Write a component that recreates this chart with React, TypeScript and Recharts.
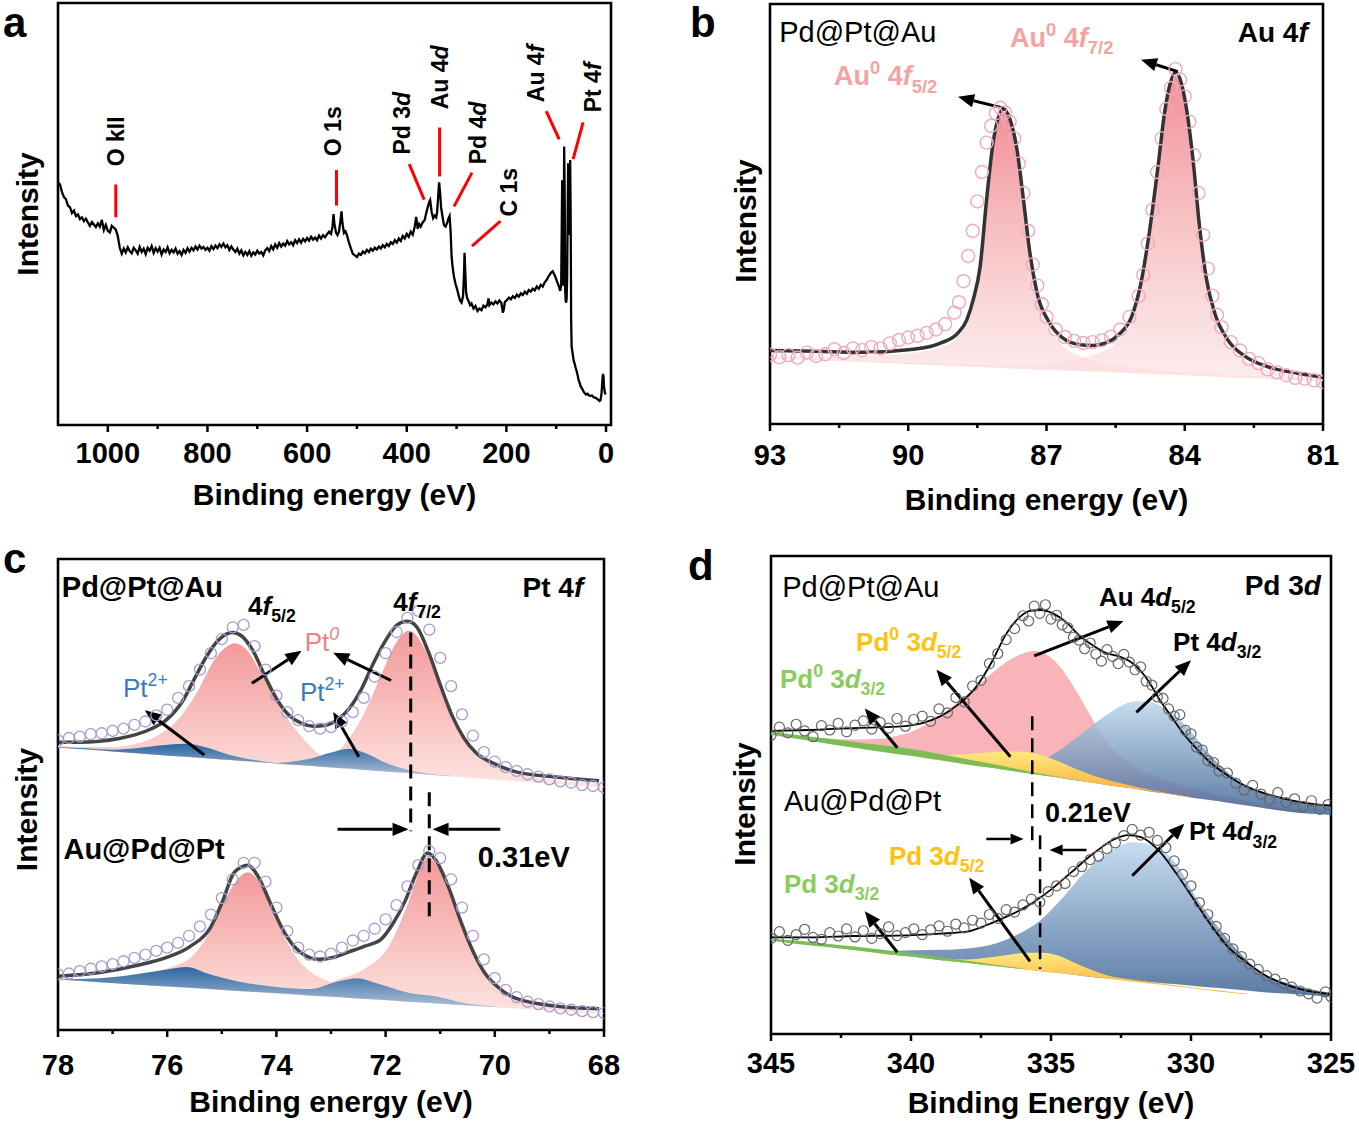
import React from "react";
import {
  ComposedChart,
  Line,
  Area,
  Scatter,
  XAxis,
  YAxis,
  ReferenceLine,
  ReferenceDot,
  ReferenceArea,
} from "recharts";

const FONT = '"Liberation Sans", Arial, Helvetica, sans-serif';

type Pt = [number, number];
type Band = [number, number, number]; // [BE, background, top]
type Seg = { t: string; i?: boolean; sub?: boolean; sup?: boolean };

// ---------------- panel a : survey ----------------
const surveyMajor = [1000, 800, 600, 400, 200, 0];
const surveyMinor = [900, 700, 500, 300, 100];
const survey: Pt[] = [
  [1100, 57.5], [1096, 57.0], [1092, 55.2], [1088, 54.0], [1084, 53.5], [1080, 52.0], [1076, 51.6], [1072, 50.2],
  [1068, 50.8], [1064, 49.5], [1060, 49.9], [1056, 48.8], [1052, 49.2], [1048, 48.3], [1044, 48.9], [1040, 48.0],
  [1036, 47.2], [1032, 48.1], [1028, 47.5], [1024, 46.9], [1020, 47.8], [1016, 47.0], [1012, 48.6], [1008, 46.2],
  [1004, 47.4], [1000, 46.0], [996, 45.6], [992, 47.2], [988, 46.8], [984, 46.3], [980, 44.8], [976, 42.0],
  [972, 40.6], [968, 41.8], [964, 40.9], [960, 42.1], [956, 41.2], [952, 40.7], [948, 42.0], [944, 41.4],
  [940, 40.6], [936, 42.2], [932, 41.0], [928, 41.8], [924, 40.5], [920, 42.0], [916, 41.3], [912, 42.4],
  [908, 40.8], [904, 41.9], [900, 41.1], [896, 42.0], [892, 40.4], [888, 41.6], [884, 41.0], [880, 42.1],
  [876, 40.7], [872, 41.5], [868, 40.9], [864, 41.8], [860, 40.6], [856, 41.2], [852, 40.3], [848, 41.5],
  [844, 40.8], [840, 41.9], [836, 41.1], [832, 42.0], [828, 41.4], [824, 42.3], [820, 41.6], [816, 42.5],
  [812, 41.8], [808, 42.2], [804, 41.5], [800, 42.0], [796, 41.3], [792, 42.4], [788, 41.7], [784, 42.5],
  [780, 41.9], [776, 42.8], [772, 42.2], [768, 43.0], [764, 42.1], [760, 42.6], [756, 41.5], [752, 42.3],
  [748, 41.6], [744, 41.0], [740, 41.8], [736, 40.6], [732, 41.4], [728, 40.2], [724, 41.0], [720, 40.3],
  [716, 41.2], [712, 40.1], [708, 40.9], [704, 40.4], [700, 41.3], [696, 40.6], [692, 41.0], [688, 40.2],
  [684, 41.4], [680, 41.9], [676, 41.2], [672, 42.4], [668, 41.6], [664, 42.8], [660, 42.0], [656, 43.1],
  [652, 42.3], [648, 43.0], [644, 42.5], [640, 43.6], [636, 42.8], [632, 43.3], [628, 42.6], [624, 43.8],
  [620, 43.1], [616, 44.0], [612, 43.2], [608, 44.1], [604, 43.5], [600, 44.3], [596, 43.7], [592, 44.6],
  [588, 43.9], [584, 44.4], [580, 43.8], [576, 44.9], [572, 44.2], [568, 45.0], [564, 44.5], [560, 45.2],
  [556, 45.8], [552, 45.3], [549, 47.0], [547, 50.0], [545, 47.5], [542, 45.6], [539, 45.0], [536, 45.8],
  [533, 48.5], [531, 50.6], [529, 47.8], [526, 45.5], [523, 45.9], [520, 45.0], [516, 43.2], [512, 41.8],
  [508, 40.5], [504, 40.2], [500, 39.8], [496, 40.6], [492, 40.3], [488, 41.1], [484, 40.7], [480, 41.5],
  [476, 41.0], [472, 41.8], [468, 41.3], [464, 42.0], [460, 41.6], [456, 42.3], [452, 41.8], [448, 42.6],
  [444, 42.1], [440, 42.9], [436, 42.4], [432, 43.3], [428, 42.9], [424, 43.8], [420, 43.2], [416, 44.2],
  [412, 43.6], [408, 44.8], [404, 44.2], [400, 45.3], [396, 44.6], [392, 45.8], [388, 45.1], [384, 47.0],
  [381, 49.3], [378, 46.5], [375, 47.6], [372, 47.0], [368, 48.0], [364, 48.6], [361, 50.2], [358, 51.5],
  [355, 52.8], [353, 53.3], [350, 50.5], [347, 49.0], [344, 49.6], [341, 49.2], [339, 50.5], [337, 54.0],
  [335, 57.5], [333, 55.0], [331, 51.5], [329, 50.0], [327, 48.5], [325, 47.3], [322, 47.0], [320, 47.6],
  [318, 48.2], [316, 49.0], [314, 49.5], [312, 46.0], [310, 40.0], [308, 37.5], [305, 35.0], [302, 33.4],
  [299, 32.2], [296, 30.8], [293, 29.5], [290, 29.0], [287, 30.5], [285, 36.0], [284, 40.8], [283, 38.0],
  [281, 31.5], [279, 30.2], [276, 29.4], [273, 28.4], [270, 28.8], [266, 27.6], [262, 28.2], [258, 27.0],
  [254, 27.6], [250, 27.2], [246, 28.3], [242, 27.9], [238, 28.6], [236, 30.0], [234, 28.4], [230, 29.0],
  [226, 28.6], [222, 29.3], [218, 28.8], [214, 29.5], [210, 28.9], [207, 26.6], [205, 27.5], [203, 29.2],
  [199, 29.6], [195, 30.2], [191, 29.8], [187, 30.5], [183, 30.1], [179, 30.9], [175, 30.4], [171, 31.2],
  [167, 30.8], [163, 31.6], [159, 31.1], [155, 32.0], [151, 31.6], [147, 32.3], [143, 31.9], [139, 32.8],
  [135, 32.3], [131, 33.2], [127, 32.8], [123, 33.8], [119, 34.4], [115, 35.3], [111, 36.0], [107, 36.4],
  [103, 35.5], [99, 34.2], [95, 33.0], [92, 31.8], [90, 33.0], [89, 45.0], [88, 58.0], [87, 50.0],
  [86, 33.0], [85, 40.0], [84, 66.0], [83, 55.0], [82, 32.0], [81, 29.5], [80, 29.0], [79, 30.0],
  [78, 35.0], [77, 50.0], [76, 62.0], [75, 55.0], [74, 45.0], [73, 55.0], [72, 62.8], [71, 50.0],
  [70, 25.0], [69, 18.5], [67, 17.0], [65, 15.3], [63, 14.5], [61, 13.6], [59, 12.8], [57, 11.8],
  [55, 10.7], [53, 10.0], [51, 9.2], [49, 8.8], [47, 8.4], [45, 7.9], [43, 7.6], [40, 7.2],
  [37, 7.4], [34, 7.0], [31, 6.9], [28, 7.0], [25, 6.6], [22, 6.5], [19, 6.3], [16, 6.0],
  [13, 5.7], [11, 5.9], [9, 7.5], [7, 11.0], [6, 12.1], [5, 11.5], [4, 9.0], [2, 7.5], [0, 7.3],
];
const surveyLabels: { name: Seg[]; at: Pt; from: Pt; to: Pt }[] = [
  { name: [{ t: "O kII" }], at: [984, 61.3], from: [984, 57.0], to: [984, 49.2] },
  { name: [{ t: "O 1s" }], at: [547, 63.7], from: [541, 60.4], to: [541, 52.0] },
  { name: [{ t: "Pd 3" }, { t: "d", i: true }], at: [409, 64.1], from: [395, 61.8], to: [365, 53.4] },
  { name: [{ t: "Au 4" }, { t: "d", i: true }], at: [333, 74.8], from: [334, 70.5], to: [334, 58.9] },
  { name: [{ t: "Pd 4" }, { t: "d", i: true }], at: [257, 61.8], from: [269, 59.8], to: [305, 51.8] },
  { name: [{ t: "C 1s" }], at: [194, 49.4], from: [212, 48.3], to: [269, 42.4] },
  { name: [{ t: "Au 4" }, { t: "f", i: true }], at: [140, 76.5], from: [120, 74.4], to: [94, 67.7] },
  { name: [{ t: "Pt 4" }, { t: "f", i: true }], at: [26, 74.1], from: [46, 71.7], to: [66, 63.0] },
];

// ---------------- panel b : Au 4f ----------------
const auMajor = [93, 90, 87, 84, 81];
const auMinor = [91.5, 88.5, 85.5, 82.5];
const auFit: Pt[] = [
  [93.0, 17.5], [92.0, 17.3], [91.0, 17.1], [90.0, 17.7], [89.5, 18.5], [89.29, 19.3], [88.92, 21.7],
  [88.73, 24.8], [88.59, 29.6], [88.44, 37.5], [88.3, 53.4], [88.16, 66.9], [88.02, 73.7], [87.93, 75.0],
  [87.79, 72.5], [87.64, 65.3], [87.5, 53.4], [87.36, 40.7], [87.22, 32.0], [86.93, 24.0], [86.65, 20.5],
  [86.28, 18.9], [86.0, 18.7], [85.71, 19.3], [85.43, 21.3], [85.15, 25.6], [84.95, 33.6], [84.77, 45.5],
  [84.58, 61.3], [84.44, 74.0], [84.29, 82.0], [84.2, 83.7], [84.11, 82.4], [83.97, 75.6], [83.82, 62.9],
  [83.68, 47.1], [83.54, 35.2], [83.35, 26.4], [83.07, 20.1], [82.69, 16.1], [82.22, 13.7], [81.56, 12.1],
  [81.0, 11.2],
];
const auDots: Pt[] = [
  [93.0, 16.5], [92.8, 15.9], [92.6, 16.4], [92.4, 15.8], [92.2, 17.0], [92.0, 16.2], [91.8, 16.6], [91.6, 17.8],
  [91.4, 16.9], [91.2, 18.0], [91.0, 17.6], [90.8, 18.3], [90.6, 18.0], [90.4, 19.2], [90.2, 20.0], [90.0, 20.6],
  [89.8, 21.0], [89.6, 21.7], [89.4, 22.5], [89.2, 23.8], [89.0, 26.5], [88.9, 29.0], [88.8, 34.0], [88.7, 40.0],
  [88.6, 46.0], [88.5, 53.0], [88.4, 60.0], [88.3, 67.0], [88.2, 71.0], [88.1, 74.0], [88.0, 75.3], [87.9, 74.2],
  [87.8, 72.0], [87.7, 68.0], [87.6, 62.0], [87.5, 55.0], [87.4, 46.0], [87.3, 38.0], [87.2, 33.0], [87.1, 28.5],
  [87.0, 25.5], [86.8, 22.5], [86.6, 20.7], [86.4, 19.8], [86.2, 19.3], [86.0, 19.5], [85.8, 19.9], [85.6, 20.8],
  [85.4, 22.5], [85.2, 25.5], [85.0, 30.5], [84.9, 35.5], [84.8, 43.0], [84.7, 51.0], [84.6, 60.0], [84.5, 68.0],
  [84.4, 75.0], [84.3, 80.0], [84.2, 84.5], [84.1, 82.0], [84.0, 78.0], [83.9, 72.0], [83.8, 64.0], [83.7, 55.0],
  [83.6, 45.0], [83.5, 37.0], [83.4, 30.5], [83.3, 26.0], [83.2, 23.0], [83.0, 19.5], [82.8, 17.5], [82.6, 15.5],
  [82.4, 14.5], [82.2, 13.0], [82.0, 12.3], [81.8, 11.6], [81.6, 11.0], [81.4, 10.8], [81.2, 10.4], [81.0, 10.0],
];
const au52: Band[] = [
  [93, 15.7, 16.0], [92, 15.2, 16.0], [91, 14.8, 16.2], [90, 14.3, 16.8], [89.5, 14.1, 17.6], [89.29, 14.0, 18.3],
  [88.92, 13.8, 20.8], [88.73, 13.7, 24.0], [88.59, 13.6, 28.8], [88.44, 13.6, 36.8], [88.3, 13.5, 52.7],
  [88.16, 13.4, 66.2], [88.02, 13.4, 73.0], [87.93, 13.3, 74.3], [87.79, 13.3, 71.8], [87.64, 13.2, 64.6],
  [87.5, 13.2, 52.6], [87.36, 13.1, 39.8], [87.22, 13.0, 31.0], [86.93, 12.9, 22.6], [86.65, 12.8, 18.6],
  [86.28, 12.6, 16.2], [86.0, 12.5, 15.0], [85.5, 12.3, 13.9], [85, 12.0, 13.3], [84, 11.6, 12.4],
  [83, 11.1, 11.8], [82, 10.7, 11.1], [81, 10.2, 10.5],
];
const au72: Band[] = [
  [93, 15.7, 15.8], [90, 14.3, 14.6], [88, 13.4, 14.0], [87, 12.9, 14.3], [86.5, 12.7, 15.0], [86.28, 12.6, 15.6],
  [86.0, 12.5, 16.5], [85.71, 12.4, 17.6], [85.43, 12.2, 19.8], [85.15, 12.1, 24.2], [84.95, 12.0, 32.3],
  [84.77, 11.9, 44.3], [84.58, 11.8, 60.2], [84.44, 11.8, 73.0], [84.29, 11.7, 81.0], [84.2, 11.7, 82.7],
  [84.11, 11.6, 81.4], [83.97, 11.6, 74.6], [83.82, 11.5, 61.9], [83.68, 11.4, 46.1], [83.54, 11.4, 34.2],
  [83.35, 11.3, 25.4], [83.07, 11.1, 19.1], [82.69, 11.0, 15.2], [82.22, 10.8, 12.9], [81.56, 10.5, 11.5],
  [81.0, 10.2, 10.7],
];

// ---------------- panel c : Pt 4f ----------------
const ptMajor = [78, 76, 74, 72, 70, 68];
const ptMinor = [77, 75, 73, 71, 69];
const ptFitTop: Pt[] = [
  [77.99, 61.1], [77.61, 61.1], [76.88, 61.9], [76.3, 63.9], [76.01, 65.9], [75.72, 69.8], [75.5, 74.6],
  [75.28, 79.3], [75.06, 82.8], [74.81, 84.4], [74.63, 83.6], [74.41, 80.1], [74.19, 74.6], [73.97, 69.8],
  [73.76, 66.7], [73.54, 65.1], [73.32, 64.5], [73.1, 64.7], [72.88, 65.9], [72.67, 68.2], [72.45, 72.2],
  [72.23, 77.7], [72.01, 82.5], [71.79, 86.0], [71.6, 86.8], [71.43, 85.6], [71.21, 80.1], [70.99, 73.0],
  [70.78, 66.7], [70.56, 61.9], [70.34, 58.8], [69.98, 56.4], [69.61, 54.8], [68.89, 53.7], [68.09, 52.9],
];
const ptFitBottom: Pt[] = [
  [77.99, 11.4], [77.24, 12.2], [76.52, 13.8], [76.01, 15.4], [75.57, 17.8], [75.21, 21.7], [74.99, 27.2],
  [74.77, 33.5], [74.52, 35.0], [74.34, 32.7], [74.12, 27.2], [73.9, 21.7], [73.68, 17.8], [73.47, 15.8],
  [73.25, 15.0], [72.96, 15.4], [72.67, 16.6], [72.38, 17.8], [72.08, 19.3], [71.87, 22.5], [71.65, 27.2],
  [71.43, 33.5], [71.23, 37.6], [71.07, 35.9], [70.85, 30.4], [70.63, 23.3], [70.41, 17.0], [70.19, 12.2],
  [69.9, 8.7], [69.61, 6.7], [68.89, 5.1], [68.09, 4.5],
];
const ptDotsTop: Pt[] = [
  [78.0, 61.5], [77.8, 62.0], [77.6, 62.3], [77.4, 62.8], [77.2, 63.0], [77.0, 63.5], [76.8, 64.0], [76.6, 64.8],
  [76.4, 65.5], [76.2, 66.8], [76.0, 68.0], [75.8, 70.5], [75.6, 73.0], [75.4, 76.5], [75.2, 80.0], [75.0, 83.0],
  [74.8, 85.5], [74.6, 86.0], [74.4, 81.5], [74.2, 76.5], [74.0, 71.0], [73.8, 67.5], [73.6, 65.8], [73.4, 64.5],
  [73.2, 64.0], [73.0, 64.3], [72.8, 65.5], [72.6, 67.5], [72.4, 70.5], [72.2, 75.0], [72.0, 80.0], [71.8, 84.5],
  [71.6, 87.5], [71.4, 89.0], [71.2, 85.0], [71.0, 79.0], [70.8, 73.0], [70.6, 67.0], [70.4, 62.5], [70.2, 59.0],
  [70.0, 57.0], [69.8, 55.8], [69.6, 55.0], [69.4, 54.3], [69.2, 53.8], [69.0, 53.2], [68.8, 52.8], [68.6, 52.5],
  [68.4, 52.0], [68.2, 51.8], [68.0, 51.5],
];
const ptDotsBottom: Pt[] = [
  [78.0, 11.8], [77.8, 12.0], [77.6, 12.5], [77.4, 13.0], [77.2, 13.5], [77.0, 14.0], [76.8, 14.6], [76.6, 15.3],
  [76.4, 16.0], [76.2, 16.8], [76.0, 17.5], [75.8, 18.5], [75.6, 20.0], [75.4, 22.0], [75.2, 24.5], [75.0, 28.0],
  [74.8, 32.0], [74.6, 35.5], [74.4, 35.5], [74.2, 31.5], [74.0, 26.0], [73.8, 21.0], [73.6, 17.5], [73.4, 16.0],
  [73.2, 15.6], [73.0, 16.2], [72.8, 17.5], [72.6, 19.0], [72.4, 20.0], [72.2, 21.5], [72.0, 23.5], [71.8, 26.5],
  [71.6, 30.5], [71.4, 35.0], [71.2, 38.0], [71.0, 36.5], [70.8, 32.0], [70.6, 26.0], [70.4, 20.0], [70.2, 15.0],
  [70.0, 11.0], [69.8, 8.5], [69.6, 7.0], [69.4, 6.0], [69.2, 5.5], [69.0, 5.0], [68.8, 4.6], [68.6, 4.3],
  [68.4, 4.0], [68.2, 3.8], [68.0, 3.6],
];
const pt0aTop: Band[] = [
  [78, 60.0, 60.3], [77.5, 59.6, 60.1], [77, 59.15, 60.1], [76.5, 58.7, 61.0], [76.15, 58.4, 62.7],
  [75.8, 58.1, 65.9], [75.43, 57.8, 72.2], [75.14, 57.6, 78.5], [74.92, 57.4, 81.3], [74.77, 57.25, 82.1],
  [74.56, 57.1, 80.9], [74.26, 56.8, 75.3], [73.97, 56.6, 69.0], [73.68, 56.3, 64.3], [73.39, 56.1, 60.4],
  [73.1, 55.8, 57.6], [72.5, 55.3, 56.1], [72, 54.9, 55.5], [71, 54.05, 54.5], [70, 53.2, 53.5],
  [69, 52.35, 52.6], [68, 51.5, 51.7],
];
const pt0bTop: Band[] = [
  [78, 60.0, 60.2], [76, 58.3, 58.6], [75, 57.45, 57.9], [74, 56.6, 57.3], [73.5, 56.2, 57.4], [73.1, 55.8, 57.6],
  [72.67, 55.5, 61.9], [72.38, 55.2, 67.5], [72.08, 55.0, 75.4], [71.87, 54.8, 80.9], [71.65, 54.6, 84.4],
  [71.58, 54.55, 84.8], [71.36, 54.4, 82.5], [71.14, 54.2, 77.0], [70.92, 54.0, 69.8], [70.63, 53.75, 62.7],
  [70.34, 53.5, 58.8], [69.98, 53.2, 56.0], [69.25, 52.6, 53.6], [68.09, 51.6, 52.4],
];
const pt2Top: Band[] = [
  [78, 60.0, 60.1], [77.5, 59.6, 59.8], [77, 59.15, 59.5], [76.5, 58.7, 59.9], [76.15, 58.4, 60.4],
  [75.65, 58.0, 60.8], [75.28, 57.7, 60.0], [74.85, 57.3, 58.4], [74.34, 56.9, 57.2], [74, 56.6, 56.7],
  [73.7, 56.3, 57.0], [73.39, 56.1, 57.6], [73.03, 55.8, 58.8], [72.67, 55.5, 59.7], [72.38, 55.2, 58.8],
  [72.01, 54.9, 56.8], [71.58, 54.6, 55.2], [71.2, 54.2, 54.4], [70.8, 53.9, 54.0],
];
const pt0aBottom: Band[] = [
  [78, 10.7, 10.9], [77, 10.0, 10.5], [76.5, 9.6, 11.5], [76.15, 9.35, 12.6], [75.57, 8.9, 15.4],
  [75.14, 8.6, 22.5], [74.85, 8.4, 29.6], [74.52, 8.2, 33.5], [74.26, 8.0, 30.4], [73.97, 7.8, 22.5],
  [73.68, 7.6, 16.2], [73.25, 7.2, 11.4], [73.03, 7.1, 10.3], [72.5, 6.7, 8.6], [72, 6.3, 7.3],
  [71, 5.6, 6.0], [70, 4.9, 5.1], [69, 4.1, 4.2], [68, 3.4, 3.5],
];
const pt0bBottom: Band[] = [
  [78, 10.7, 10.8], [76, 9.2, 9.5], [74.5, 8.1, 8.6], [73.5, 7.4, 8.5], [72.88, 7.0, 10.7], [72.38, 6.6, 13.0],
  [71.94, 6.3, 17.8], [71.58, 6.0, 27.2], [71.36, 5.85, 34.3], [71.23, 5.75, 36.7], [70.99, 5.6, 33.5],
  [70.7, 5.35, 24.9], [70.34, 5.1, 15.4], [69.98, 4.85, 9.1], [69.61, 4.6, 6.3], [68.89, 4.1, 4.7],
  [68.09, 3.5, 3.9],
];
const pt2Bottom: Band[] = [
  [78, 10.7, 10.8], [77.24, 10.15, 11.0], [76.15, 9.35, 12.6], [75.65, 9.0, 13.4], [75.21, 8.7, 11.8],
  [74.7, 8.3, 10.3], [73.97, 7.8, 9.1], [73.39, 7.35, 8.7], [72.88, 7.0, 10.3], [72.52, 6.7, 11.0],
  [72.16, 6.45, 9.9], [71.58, 6.0, 7.9], [71.07, 5.65, 7.1], [70.5, 5.2, 5.6], [70, 4.9, 5.0],
];

// ---------------- panel d : Pd 3d ----------------
const pdMajor = [345, 340, 335, 330, 325];
const pdMinor = [342.5, 337.5, 332.5, 327.5];
const pdFitTop: Pt[] = [
  [345.0, 63.4], [343.59, 63.6], [342.04, 64.0], [340.49, 64.3], [339.56, 65.1], [338.94, 66.5], [338.32, 68.9],
  [337.7, 72.4], [337.08, 78.2], [336.61, 83.6], [336.14, 87.1], [335.75, 88.5], [335.36, 88.7], [334.9, 87.9],
  [334.43, 86.0], [333.96, 83.2], [333.5, 81.3], [333.03, 79.7], [332.57, 79.0], [332.1, 77.6], [331.79, 75.9],
  [331.48, 73.5], [331.17, 70.4], [330.71, 66.5], [330.24, 62.6], [329.77, 59.5], [329.31, 56.8], [328.69, 54.1],
  [328.06, 51.9], [327.29, 50.2], [326.51, 49.0], [325.73, 48.2], [325.0, 47.8],
];
const pdFitBottom: Pt[] = [
  [345.0, 20.2], [343.59, 20.2], [342.04, 20.5], [340.49, 20.6], [338.94, 21.0], [338.0, 21.4], [337.38, 22.6],
  [336.61, 24.5], [335.83, 26.8], [335.05, 30.0], [334.28, 33.8], [333.5, 37.7], [332.72, 40.8], [332.26, 41.6],
  [331.79, 41.2], [331.17, 38.5], [330.55, 33.8], [329.93, 28.4], [329.31, 23.0], [328.69, 18.3], [328.06, 15.2],
  [327.29, 12.1], [326.51, 10.1], [325.73, 8.9], [325.0, 8.3],
];
const pdDotsTop: Pt[] = [
  [345.0, 62.5], [344.7, 64.2], [344.4, 63.0], [344.1, 64.8], [343.8, 63.4], [343.5, 62.2], [343.2, 64.5],
  [342.9, 63.6], [342.6, 65.0], [342.3, 63.2], [342.0, 64.6], [341.7, 65.5], [341.4, 63.8], [341.1, 65.2],
  [340.8, 64.0], [340.5, 66.0], [340.2, 64.4], [339.9, 65.8], [339.6, 66.5], [339.3, 65.4], [339.0, 68.0],
  [338.7, 67.2], [338.4, 70.4], [338.1, 69.5], [337.8, 72.8], [337.5, 74.0], [337.2, 77.5], [336.9, 79.6],
  [336.6, 82.5], [336.3, 84.8], [336.0, 87.5], [335.8, 86.4], [335.6, 89.5], [335.4, 88.0], [335.2, 89.8],
  [335.0, 86.8], [334.8, 87.6], [334.6, 85.6], [334.4, 85.0], [334.2, 83.0], [334.0, 82.4], [333.8, 80.6],
  [333.6, 81.8], [333.4, 79.5], [333.2, 78.0], [333.0, 80.4], [332.8, 79.0], [332.6, 77.5], [332.4, 79.4],
  [332.2, 77.8], [332.0, 76.2], [331.8, 76.8], [331.6, 73.8], [331.4, 73.0], [331.2, 70.5], [331.0, 70.2],
  [330.8, 68.0], [330.6, 66.5], [330.4, 66.8], [330.2, 63.5], [330.0, 62.8], [329.8, 60.0], [329.6, 59.4],
  [329.4, 57.2], [329.2, 56.8], [329.0, 55.0], [328.7, 54.6], [328.4, 52.5], [328.1, 51.0], [327.8, 52.0],
  [327.5, 50.2], [327.2, 49.0], [326.9, 50.5], [326.6, 48.4], [326.3, 49.2], [326.0, 47.6], [325.7, 48.8],
  [325.4, 47.0], [325.1, 48.0],
];
const pdDotsBottom: Pt[] = [
  [345.0, 20.0], [344.7, 21.4], [344.4, 19.6], [344.1, 20.8], [343.8, 21.9], [343.5, 20.2], [343.2, 19.8],
  [342.9, 21.2], [342.6, 20.5], [342.3, 22.0], [342.0, 20.3], [341.7, 21.6], [341.4, 20.0], [341.1, 21.0],
  [340.8, 22.4], [340.5, 20.6], [340.2, 21.2], [339.9, 22.0], [339.6, 20.8], [339.3, 21.8], [339.0, 22.6],
  [338.7, 21.5], [338.4, 23.0], [338.1, 22.2], [337.8, 23.8], [337.5, 23.2], [337.2, 25.0], [336.9, 24.2],
  [336.6, 26.0], [336.3, 25.5], [336.0, 27.0], [335.7, 28.2], [335.4, 27.6], [335.1, 29.8], [334.8, 31.0],
  [334.5, 31.5], [334.2, 34.0], [333.9, 35.0], [333.6, 36.5], [333.3, 37.2], [333.0, 38.8], [332.7, 40.0],
  [332.4, 41.5], [332.1, 42.8], [331.8, 41.6], [331.5, 42.2], [331.2, 40.5], [330.9, 39.0], [330.6, 36.2],
  [330.3, 33.4], [330.0, 31.0], [329.7, 27.5], [329.4, 25.0], [329.1, 22.5], [328.8, 20.0], [328.5, 17.8],
  [328.2, 16.2], [327.9, 14.6], [327.6, 13.5], [327.3, 12.2], [327.0, 11.5], [326.7, 10.6], [326.4, 9.8],
  [326.1, 9.0], [325.8, 8.4], [325.5, 7.5], [325.2, 8.8], [325.0, 7.8],
];
const pdGreenTop: Band[] = [
  [345, 62.6, 63.3], [344, 61.7, 62.5], [343, 60.8, 61.8], [342, 59.9, 61.1], [341, 59.0, 60.4], [340, 58.2, 59.6],
  [339, 57.3, 58.6], [338, 56.4, 57.5], [337, 55.6, 56.4], [336, 54.7, 55.2], [335, 53.9, 54.1], [334, 53.0, 53.1],
];
const pdYellowTop: Band[] = [
  [340, 58.2, 58.6], [339, 57.3, 58.3], [338, 56.4, 58.6], [337, 55.6, 59.0], [336.2, 54.9, 59.1],
  [335.5, 54.3, 58.6], [334.8, 53.7, 57.2], [334, 53.0, 55.2], [333, 52.1, 53.2], [332, 51.3, 51.8],
  [331, 50.4, 50.6], [330, 49.5, 49.6],
];
const auPinkTop: Band[] = [
  [345, 62.6, 63.0], [344, 61.7, 62.3], [343, 60.8, 61.8], [342, 59.9, 61.6], [341, 59.0, 61.8], [340.5, 58.6, 62.4],
  [340, 58.2, 63.2], [339.5, 57.7, 64.6], [339, 57.3, 66.3], [338.5, 56.9, 68.6], [338, 56.4, 71.0],
  [337.5, 56.0, 73.5], [337, 55.6, 76.0], [336.5, 55.1, 78.2], [336, 54.7, 79.6], [335.6, 54.4, 80.1],
  [335.2, 54.0, 79.5], [334.8, 53.7, 77.6], [334.4, 53.3, 74.6], [334, 53.0, 70.8], [333.6, 52.6, 66.7],
  [333.2, 52.3, 62.8], [332.8, 51.9, 59.6], [332.4, 51.6, 57.4], [332, 51.3, 55.8], [331.5, 50.8, 54.4],
  [331, 50.4, 53.2], [330, 49.5, 51.5], [329, 48.7, 50.0], [328, 47.8, 48.7], [327, 46.9, 47.5], [326, 46.2, 46.6],
];
const ptBlueTop: Band[] = [
  [337, 55.6, 55.9], [336, 54.7, 55.6], [335.5, 54.3, 56.6], [335, 53.9, 58.2], [334.5, 53.4, 60.2],
  [334, 53.0, 62.4], [333.5, 52.6, 64.7], [333, 52.1, 66.8], [332.5, 51.7, 68.6], [332, 51.3, 69.6],
  [331.5, 50.8, 69.5], [331, 50.4, 68.4], [330.5, 50.0, 66.3], [330, 49.5, 63.2], [329.5, 49.1, 59.6],
  [329, 48.7, 56.4], [328.5, 48.2, 53.8], [328, 47.8, 51.9], [327.5, 47.4, 50.6], [327, 46.9, 49.6],
  [326.5, 46.5, 48.8], [326, 46.2, 48.3], [325.5, 46.0, 47.9], [325, 45.8, 47.6],
];
const pdGreenBottom: Band[] = [
  [345, 19.5, 20.0], [344, 18.8, 19.5], [343, 18.2, 18.9], [342, 17.5, 18.3], [341, 16.8, 17.6], [340, 16.2, 16.9],
  [339, 15.5, 16.1], [338, 14.9, 15.3], [337, 14.2, 14.5], [336, 13.6, 13.7],
];
const pdYellowBottom: Band[] = [
  [339, 15.5, 15.8], [338, 14.9, 15.6], [337.4, 14.5, 15.9], [336.5, 13.9, 16.6], [335.8, 13.4, 17.0],
  [335.3, 13.1, 17.0], [334.7, 12.7, 16.3], [334.2, 12.4, 15.0], [333.5, 11.9, 13.3], [333, 11.6, 12.3],
  [332, 10.9, 11.3], [331, 10.3, 10.5], [330, 9.6, 9.8], [329, 8.9, 9.1], [328, 8.3, 8.4],
];
const ptBlueBottom: Band[] = [
  [341, 16.8, 17.3], [340, 16.2, 17.5], [339, 15.5, 17.6], [338, 14.9, 17.9], [337, 14.2, 18.9], [336.2, 13.7, 20.8],
  [335.4, 13.2, 23.7], [334.6, 12.7, 28.4], [333.8, 12.1, 33.8], [333.0, 11.6, 37.7], [332.1, 11.2, 40.1],
  [331.3, 10.8, 39.3], [330.5, 10.4, 35.4], [329.8, 10.0, 28.4], [329.0, 9.6, 22.2], [328.2, 9.2, 16.7],
  [327.5, 8.8, 12.8], [326.5, 8.4, 10.5], [325.7, 8.1, 9.3], [325, 7.8, 8.6],
];

// ---------------- helpers ----------------
const pts = (a: Pt[]) => a.map(([be, v]) => ({ be, v }));
const band = (a: Band[]) => a.map(([be, lo, hi]) => ({ be, r: [lo, hi] }));

function Rich({ x, y, segs, size = 26, color = "#000", anchor = "start", weight = "bold", rotate = false }: any) {
  let shift = 0;
  return (
    <text
      x={x}
      y={y}
      fill={color}
      fontFamily={FONT}
      fontSize={size}
      fontWeight={weight}
      textAnchor={anchor}
      dominantBaseline={rotate ? "central" : undefined}
      transform={rotate ? `rotate(-90 ${x} ${y})` : undefined}
      style={{ whiteSpace: "pre" }}
    >
      {segs.map((s: Seg, k: number) => {
        const target = s.sub ? size * 0.28 : s.sup ? -size * 0.42 : 0;
        const dy = target - shift;
        shift = target;
        return (
          <tspan key={k} dy={dy} fontSize={s.sub || s.sup ? size * 0.68 : size} fontStyle={s.i ? "italic" : "normal"}>
            {s.t}
          </tspan>
        );
      })}
    </text>
  );
}

function note(key: string, at: Pt, segs: Seg[], o: any = {}) {
  return (
    <ReferenceDot
      key={key}
      x={at[0]}
      y={at[1]}
      r={1}
      ifOverflow="visible"
      shape={(p: any) => <Rich x={p.cx} y={p.cy} segs={segs} {...o} />}
    />
  );
}

function arrow(key: string, from: Pt, to: Pt, w = 3, head = 16) {
  return (
    <ReferenceLine
      key={key}
      ifOverflow="visible"
      segment={[{ x: from[0], y: from[1] }, { x: to[0], y: to[1] }]}
      shape={(p: any) => {
        const { x1, y1, x2, y2 } = p;
        const len = Math.hypot(x2 - x1, y2 - y1) || 1;
        const ux = (x2 - x1) / len;
        const uy = (y2 - y1) / len;
        const bx = x2 - ux * head;
        const by = y2 - uy * head;
        const hw = head * 0.42;
        return (
          <g>
            <line x1={x1} y1={y1} x2={bx} y2={by} stroke="#000" strokeWidth={w} />
            <polygon points={`${x2},${y2} ${bx - uy * hw},${by + ux * hw} ${bx + uy * hw},${by - ux * hw}`} fill="#000" />
          </g>
        );
      }}
    />
  );
}

function seg(key: string, from: Pt, to: Pt, color: string, w: number, dash?: string) {
  return (
    <ReferenceLine
      key={key}
      ifOverflow="visible"
      segment={[{ x: from[0], y: from[1] }, { x: to[0], y: to[1] }]}
      stroke={color}
      strokeWidth={w}
      strokeDasharray={dash}
    />
  );
}

function axes(o: {
  domain: [number, number];
  major: number[];
  minor: number[];
  xh: number;
  yw: number;
  title: string;
  titleDy: number;
  tickDy: number;
  yx: number;
  ydy: number;
}) {
  const tick = (p: any) => {
    const v = p.payload.value;
    const major = o.major.indexOf(v) >= 0;
    return (
      <g>
        <line x1={p.x} x2={p.x} y1={p.y} y2={p.y + (major ? 7 : 4)} stroke="#000" strokeWidth={2.5} />
        {major && (
          <text x={p.x} y={p.y + o.tickDy} textAnchor="middle" fontFamily={FONT} fontWeight="bold" fontSize={29} fill="#000">
            {v}
          </text>
        )}
      </g>
    );
  };
  return [
    <XAxis
      key="x"
      type="number"
      dataKey="be"
      domain={o.domain}
      reversed
      allowDataOverflow
      ticks={[...o.major, ...o.minor]}
      interval={0}
      tickSize={0}
      tickMargin={0}
      tickLine={false}
      axisLine={false}
      height={o.xh}
      tick={tick}
      label={{
        content: ({ viewBox }: any) => (
          <text
            x={viewBox.x + viewBox.width / 2}
            y={viewBox.y + o.titleDy}
            textAnchor="middle"
            fontFamily={FONT}
            fontWeight="bold"
            fontSize={30}
            fill="#000"
          >
            {o.title}
          </text>
        ),
      }}
    />,
    <YAxis
      key="y"
      type="number"
      domain={[0, 100]}
      allowDataOverflow
      width={o.yw}
      tick={false}
      tickLine={false}
      axisLine={false}
      label={{
        content: ({ viewBox }: any) => {
          const x = viewBox.x + o.yx;
          const y = viewBox.y + viewBox.height / 2 + o.ydy;
          return (
            <text
              x={x}
              y={y}
              transform={`rotate(-90 ${x} ${y})`}
              textAnchor="middle"
              dominantBaseline="central"
              fontFamily={FONT}
              fontWeight="bold"
              fontSize={30}
              fill="#000"
            >
              Intensity
            </text>
          );
        },
      }}
    />,
    <ReferenceArea
      key="frame"
      x1={o.domain[0]}
      x2={o.domain[1]}
      y1={0}
      y2={100}
      ifOverflow="visible"
      fill="none"
      stroke="#000"
      strokeWidth={2.6}
    />,
  ];
}

const ring = (r: number, color: string, w: number) => (p: any) =>
  <circle cx={p.cx} cy={p.cy} r={r} fill="none" stroke={color} strokeWidth={w} />;

const noAnim = { isAnimationActive: false };
const fillArea = { type: "monotone" as const, stroke: "none", fillOpacity: 1, isAnimationActive: false };

// ---------------- panels ----------------
function PanelA() {
  return (
    <ComposedChart width={650} height={530} margin={{ top: 3, right: 39, bottom: 0, left: 0 }}>
      {axes({
        domain: [-10, 1100],
        major: surveyMajor,
        minor: surveyMinor,
        xh: 105,
        yw: 58,
        title: "Binding energy (eV)",
        titleDy: 80,
        tickDy: 38,
        yx: 27,
        ydy: 0,
      })}
      <Line data={pts(survey)} dataKey="v" type="linear" stroke="#000" strokeWidth={2.3} dot={false} activeDot={false} {...noAnim} />
      {surveyLabels.map((s, k) => seg("l" + k, s.from, s.to, "#ff0000", 3))}
      {surveyLabels.map((s, k) => note("n" + k, s.at, s.name, { size: 23, rotate: true }))}
    </ComposedChart>
  );
}

function PanelB() {
  return (
    <ComposedChart width={679} height={530} margin={{ top: 4, right: 36, bottom: 0, left: 0 }}>
      <defs>
        <linearGradient id="bPink" x1="0" y1="0" x2="0" y2="1">
          <stop offset="0%" stopColor="#ef7c84" stopOpacity={0.85} />
          <stop offset="100%" stopColor="#fbe1e1" stopOpacity={0.6} />
        </linearGradient>
      </defs>
      {axes({
        domain: [81, 93],
        major: auMajor,
        minor: auMinor,
        xh: 106,
        yw: 90,
        title: "Binding energy (eV)",
        titleDy: 86,
        tickDy: 41,
        yx: 65,
        ydy: 7,
      })}
      <Area data={band(au52)} dataKey="r" fill="url(#bPink)" {...fillArea} />
      <Area data={band(au72)} dataKey="r" fill="url(#bPink)" {...fillArea} />
      <Scatter data={pts(auDots)} dataKey="v" shape={ring(6.5, "#f2a9bd", 1.4)} {...noAnim} />
      <Line data={pts(auFit)} dataKey="v" type="monotone" stroke="#333" strokeWidth={3.5} dot={false} activeDot={false} {...noAnim} />
      {note("t1", [92.8, 91.0], [{ t: "Pd@Pt@Au" }], { size: 29, weight: "normal" })}
      {note("t2", [81.33, 91.0], [{ t: "Au 4" }, { t: "f", i: true }], { size: 28, anchor: "end" })}
      {note("t3", [87.79, 89.8], [{ t: "Au" }, { t: "0", sup: true }, { t: " 4" }, { t: "f", i: true }, { t: "7/2", sub: true }], { size: 27, color: "#f4a3a3" })}
      {note("t4", [91.61, 80.7], [{ t: "Au" }, { t: "0", sup: true }, { t: " 4" }, { t: "f", i: true }, { t: "5/2", sub: true }], { size: 27, color: "#f4a3a3" })}
      {arrow("a1", [84.15, 83.9], [84.95, 86.7])}
      {arrow("a2", [87.93, 75.2], [88.92, 77.9])}
    </ComposedChart>
  );
}

function PanelC() {
  const pink = "url(#cPink)";
  const blue = "url(#cBlue)";
  return (
    <ComposedChart width={650} height={586} margin={{ top: 14, right: 46, bottom: 0, left: 0 }}>
      <defs>
        <linearGradient id="cPink" x1="0" y1="0" x2="0" y2="1">
          <stop offset="0%" stopColor="#f3999a" />
          <stop offset="100%" stopColor="#fde4e0" />
        </linearGradient>
        <linearGradient id="cBlue" x1="0" y1="0" x2="0" y2="1">
          <stop offset="0%" stopColor="#2a66a0" />
          <stop offset="100%" stopColor="#aebfd6" />
        </linearGradient>
      </defs>
      {axes({
        domain: [68, 78],
        major: ptMajor,
        minor: ptMinor,
        xh: 101,
        yw: 58,
        title: "Binding energy (eV)",
        titleDy: 82,
        tickDy: 45,
        yx: 26,
        ydy: 15,
      })}
      <Area data={band(pt0aTop)} dataKey="r" fill={pink} {...fillArea} />
      <Area data={band(pt0bTop)} dataKey="r" fill={pink} {...fillArea} />
      <Area data={band(pt0aBottom)} dataKey="r" fill={pink} {...fillArea} />
      <Area data={band(pt0bBottom)} dataKey="r" fill={pink} {...fillArea} />
      <Area data={band(pt2Top)} dataKey="r" fill={blue} {...fillArea} />
      <Area data={band(pt2Bottom)} dataKey="r" fill={blue} {...fillArea} />
      <Scatter data={pts(ptDotsTop)} dataKey="v" shape={ring(5.5, "#a79ad2", 1.3)} {...noAnim} />
      <Scatter data={pts(ptDotsBottom)} dataKey="v" shape={ring(5.5, "#a79ad2", 1.3)} {...noAnim} />
      <Line data={pts(ptFitTop)} dataKey="v" type="monotone" stroke="#444" strokeWidth={3.5} dot={false} activeDot={false} {...noAnim} />
      <Line data={pts(ptFitBottom)} dataKey="v" type="monotone" stroke="#444" strokeWidth={3.5} dot={false} activeDot={false} {...noAnim} />
      {seg("d1", [71.54, 84.4], [71.54, 42.2], "#000", 3, "14 8")}
      {seg("d2", [71.2, 50.5], [71.2, 24.1], "#000", 3, "14 8")}
      {note("t1", [77.93, 91.9], [{ t: "Pd@Pt@Au" }], { size: 29 })}
      {note("t2", [68.38, 91.9], [{ t: "Pt 4" }, { t: "f", i: true }], { size: 28, anchor: "end" })}
      {note("t3", [74.52, 88.1], [{ t: "4" }, { t: "f", i: true }, { t: "5/2", sub: true }], { size: 26 })}
      {note("t4", [71.86, 89.0], [{ t: "4" }, { t: "f", i: true }, { t: "7/2", sub: true }], { size: 26 })}
      {note("t5", [73.48, 80.5], [{ t: "Pt" }, { t: "0", sup: true, i: true }], { size: 26, color: "#f47f7f", weight: "normal" })}
      {note("t6", [76.81, 70.7], [{ t: "Pt" }, { t: "2+", sup: true }], { size: 26, color: "#3b7db7", weight: "normal" })}
      {note("t7", [73.57, 69.9], [{ t: "Pt" }, { t: "2+", sup: true }], { size: 26, color: "#3b7db7", weight: "normal" })}
      {note("t8", [77.9, 36.3], [{ t: "Au@Pd@Pt" }], { size: 29 })}
      {note("t9", [70.31, 34.7], [{ t: "0.31eV" }], { size: 29 })}
      {arrow("a1", [74.45, 73.6], [73.54, 80.5])}
      {arrow("a2", [71.9, 74.2], [72.96, 80.1])}
      {arrow("a3", [75.32, 58.4], [76.41, 67.9])}
      {arrow("a4", [72.49, 58.0], [72.96, 67.5])}
      {arrow("a5", [72.88, 42.6], [71.58, 42.6])}
      {arrow("a6", [69.9, 42.6], [71.14, 42.6])}
    </ComposedChart>
  );
}

function PanelD() {
  return (
    <ComposedChart width={679} height={586} margin={{ top: 11, right: 28, bottom: 0, left: 0 }}>
      <defs>
        <linearGradient id="dBlue" x1="0" y1="0" x2="0" y2="1">
          <stop offset="0%" stopColor="#bcd7ec" stopOpacity={0.85} />
          <stop offset="100%" stopColor="#3f6394" stopOpacity={0.85} />
        </linearGradient>
        <linearGradient id="dYellow" x1="0" y1="0" x2="0" y2="1">
          <stop offset="0%" stopColor="#ffe880" />
          <stop offset="100%" stopColor="#f7ac33" />
        </linearGradient>
      </defs>
      {axes({
        domain: [325, 345],
        major: pdMajor,
        minor: pdMinor,
        xh: 97,
        yw: 91,
        title: "Binding Energy (eV)",
        titleDy: 79,
        tickDy: 39,
        yx: 64,
        ydy: 9,
      })}
      <Scatter data={pts(pdDotsTop)} dataKey="v" shape={ring(5, "#666", 1.2)} {...noAnim} />
      <Scatter data={pts(pdDotsBottom)} dataKey="v" shape={ring(5, "#666", 1.2)} {...noAnim} />
      <Area data={band(auPinkTop)} dataKey="r" fill="#f8b4b8" {...fillArea} />
      <Area data={band(ptBlueTop)} dataKey="r" fill="url(#dBlue)" {...fillArea} />
      <Area data={band(pdYellowTop)} dataKey="r" fill="url(#dYellow)" {...fillArea} />
      <Area data={band(pdGreenTop)} dataKey="r" fill="#79bd55" {...fillArea} />
      <Area data={band(ptBlueBottom)} dataKey="r" fill="url(#dBlue)" {...fillArea} />
      <Area data={band(pdYellowBottom)} dataKey="r" fill="url(#dYellow)" {...fillArea} />
      <Area data={band(pdGreenBottom)} dataKey="r" fill="#79bd55" {...fillArea} />
      <Line data={pts(pdFitTop)} dataKey="v" type="monotone" stroke="#000" strokeWidth={1.8} dot={false} activeDot={false} {...noAnim} />
      <Line data={pts(pdFitBottom)} dataKey="v" type="monotone" stroke="#000" strokeWidth={1.8} dot={false} activeDot={false} {...noAnim} />
      {seg("d1", [335.67, 66.5], [335.67, 40.1], "#000", 2.5, "14 8")}
      {seg("d2", [335.39, 41.6], [335.39, 13.6], "#000", 2.5, "14 8")}
      {note("t1", [344.6, 91.4], [{ t: "Pd@Pt@Au" }], { size: 29, weight: "normal" })}
      {note("t2", [325.36, 91.8], [{ t: "Pd 3" }, { t: "d", i: true }], { size: 28, anchor: "end" })}
      {note("t3", [333.29, 89.5], [{ t: "Au 4" }, { t: "d", i: true }, { t: "5/2", sub: true }], { size: 26 })}
      {note("t4", [341.96, 80.1], [{ t: "Pd" }, { t: "0", sup: true }, { t: " 3" }, { t: "d", i: true }, { t: "5/2", sub: true }], { size: 26, color: "#ffc20e" })}
      {note("t5", [344.68, 72.4], [{ t: "Pd" }, { t: "0", sup: true }, { t: " 3" }, { t: "d", i: true }, { t: "3/2", sub: true }], { size: 26, color: "#8ccb62" })}
      {note("t6", [330.64, 80.1], [{ t: "Pt 4" }, { t: "d", i: true }, { t: "3/2", sub: true }], { size: 26 })}
      {note("t7", [344.54, 46.7], [{ t: "Au@Pd@Pt" }], { size: 29, weight: "normal" })}
      {note("t8", [335.21, 44.4], [{ t: "0.21eV" }], { size: 27 })}
      {note("t9", [330.07, 40.5], [{ t: "Pt 4" }, { t: "d", i: true }, { t: "3/2", sub: true }], { size: 26 })}
      {note("t10", [340.79, 35.4], [{ t: "Pd 3" }, { t: "d", i: true }, { t: "5/2", sub: true }], { size: 26, color: "#ffc20e" })}
      {note("t11", [344.54, 29.6], [{ t: "Pd 3" }, { t: "d", i: true }, { t: "3/2", sub: true }], { size: 26, color: "#8ccb62" })}
      {arrow("a1", [335.6, 79.1], [332.41, 86.4])}
      {arrow("a2", [331.95, 67.3], [330.0, 78.2])}
      {arrow("a3", [336.45, 58.0], [339.09, 76.2])}
      {arrow("a4", [340.49, 59.9], [341.65, 68.1])}
      {arrow("a5", [332.1, 33.1], [330.24, 44.0])}
      {arrow("a6", [335.75, 15.2], [337.92, 32.7])}
      {arrow("a7", [340.49, 17.1], [341.65, 25.7])}
      {arrow("a8", [337.31, 40.8], [335.98, 40.8], 2.5, 13)}
      {arrow("a9", [333.73, 38.5], [335.05, 38.5], 2.5, 13)}
    </ComposedChart>
  );
}

export default function App() {
  const letter = (t: string, x: number, y: number) => (
    <text x={x} y={y} fontFamily={FONT} fontWeight="bold" fontSize={42} fill="#000">
      {t}
    </text>
  );
  return (
    <div style={{ position: "absolute", left: 0, top: 0, width: 1359, height: 1131, background: "#fff", fontFamily: FONT }}>
      <svg width={1359} height={1131} style={{ position: "absolute", left: 0, top: 0 }}>
        {letter("a", 3, 37)}
        {letter("b", 690, 37)}
        {letter("c", 3, 573)}
        {letter("d", 688, 580)}
      </svg>
      <div style={{ position: "absolute", left: 0, top: 0 }}>
        <PanelA />
      </div>
      <div style={{ position: "absolute", left: 680, top: 0 }}>
        <PanelB />
      </div>
      <div style={{ position: "absolute", left: 0, top: 545 }}>
        <PanelC />
      </div>
      <div style={{ position: "absolute", left: 680, top: 545 }}>
        <PanelD />
      </div>
    </div>
  );
}
